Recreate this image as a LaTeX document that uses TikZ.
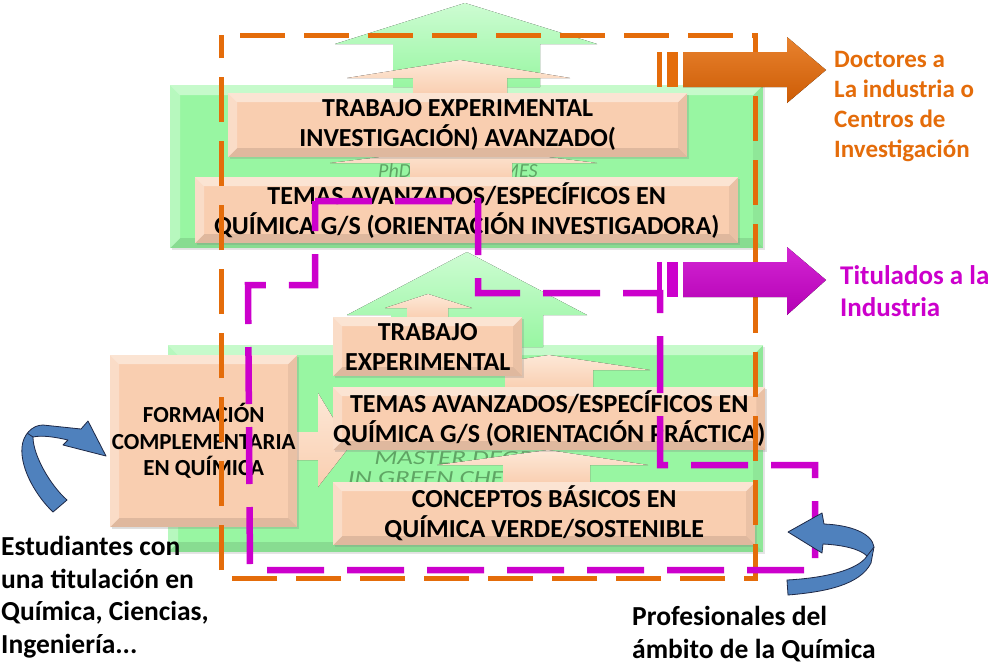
\documentclass[tikz,border=0pt]{standalone}
\usepackage{fontspec}
\setmainfont{Carlito}
\usetikzlibrary{shadows}
\definecolor{peach}{RGB}{249,206,176}
\definecolor{peachlt}{RGB}{253,232,215}
\definecolor{grn}{RGB}{152,246,162}
\definecolor{grnlt}{RGB}{205,252,210}
\definecolor{orng}{RGB}{228,108,10}
\definecolor{orngdk}{RGB}{205,92,5}
\definecolor{mgnt}{RGB}{204,0,204}
\definecolor{mgntdk}{RGB}{180,0,180}
\definecolor{blu}{RGB}{79,129,189}
\definecolor{bludark}{RGB}{30,40,70}
\definecolor{hidgrn}{RGB}{95,165,100}
\tikzset{
  bevel/.style={path picture={
    \fill[white,opacity=0.45] (path picture bounding box.north west) -- (path picture bounding box.north east) -- ([xshift=-#1,yshift=-#1]path picture bounding box.north east) -- ([xshift=#1,yshift=-#1]path picture bounding box.north west) -- cycle;
    \fill[white,opacity=0.3] (path picture bounding box.north west) -- ([xshift=#1,yshift=-#1]path picture bounding box.north west) -- ([xshift=#1,yshift=#1]path picture bounding box.south west) -- (path picture bounding box.south west) -- cycle;
    \fill[black,opacity=0.06] (path picture bounding box.north east) -- ([xshift=-#1,yshift=-#1]path picture bounding box.north east) -- ([xshift=-#1,yshift=#1]path picture bounding box.south east) -- (path picture bounding box.south east) -- cycle;
    \fill[black,opacity=0.1] (path picture bounding box.south west) -- ([xshift=#1,yshift=#1]path picture bounding box.south west) -- ([xshift=-#1,yshift=#1]path picture bounding box.south east) -- (path picture bounding box.south east) -- cycle;
  }},
  greenbox/.style={anchor=north west, fill=grn, bevel=10pt, inner sep=0pt,
    drop shadow={opacity=0.2, shadow xshift=2pt, shadow yshift=-2pt}},
  peachbox/.style={anchor=north west, fill=peach, bevel=9pt, inner sep=0pt, align=center,
    font=\bfseries\fontsize{26}{30}\selectfont,
    drop shadow={opacity=0.25, shadow xshift=2pt, shadow yshift=-2pt}},
  garrow/.style={top color=grnlt, bottom color=grn, draw=none},
  parrow/.style={top color=peachlt, bottom color=peach, draw=none},
  hidtxt/.style={inner sep=0pt, text=hidgrn, font=\itshape\fontsize{20}{20}\selectfont, align=center},
  sidetxt/.style={anchor=north west, inner sep=0pt, align=left, font=\bfseries\fontsize{27.5}{32.5}\selectfont},
  bluarrow/.style={fill=blu, draw=bludark, line width=0.8pt, line join=round},
  odash/.style={draw=orng, line width=5pt, dash pattern=on 45pt off 19pt, dash phase=45pt},
  mdash/.style={draw=mgnt, line width=6.5pt, dash pattern=on 57pt off 23pt},
}
\begin{document}
\begin{tikzpicture}[x=1pt,y=-1pt]
\useasboundingbox (0,0) rectangle (996,665);
\fill[white] (0,0) rectangle (996,665);

% green backgrounds
\node[greenbox, minimum width=593pt, minimum height=163pt] (gtop) at (170,85) {};
\node[greenbox, minimum width=595pt, minimum height=207pt] (gbot) at (168,345) {};

% green up arrows
\fill[garrow] (465,3) -- (597,44) -- (540,44) -- (540,87) -- (393,87) -- (393,44) -- (335,44) -- cycle;
\fill[garrow] (467,252) -- (587,315) -- (543,315) -- (543,347) -- (391,347) -- (391,315) -- (347,315) -- cycle;

% partly hidden texts
\node[hidtxt, anchor=base west] (hidA) at (378,177) {PhD PROGRAMMES};
\node[hidtxt, anchor=north, xscale=1.35, transform shape] (hidB) at (467,451) {MASTER DEGREE\\IN GREEN CHEMISTRY};

% peach arrows
\fill[parrow] (460,60) -- (570,78) -- (507,78) -- (507,95) -- (413,95) -- (413,78) -- (347,78) -- cycle;
\fill[parrow] (465,147) -- (597,163) -- (512,163) -- (512,179) -- (410,179) -- (410,163) -- (330,163) -- cycle;
\fill[parrow] (428,294) -- (472,308) -- (448,308) -- (448,319) -- (407,319) -- (407,308) -- (385,308) -- cycle;
\fill[parrow] (549,355) -- (650,370) -- (593,370) -- (593,389) -- (505,389) -- (505,370) -- (449,370) -- cycle;
\fill[parrow] (548,450) -- (648,465) -- (590,465) -- (590,484) -- (503,484) -- (503,465) -- (437,465) -- cycle;
\fill[parrow] (295,432) -- (318,432) -- (318,393) -- (350,446) -- (318,487) -- (318,460) -- (295,460) -- cycle;

% peach boxes
\node[peachbox, minimum width=459pt, minimum height=64pt] (trabA) at (228,93) {TRABAJO EXPERIMENTAL\\INVESTIGACIÓN) AVANZADO(};
\node[peachbox, minimum width=543pt, minimum height=66pt] (temasI) at (195,177) {TEMAS AVANZADOS/ESPECÍFICOS EN\\QUÍMICA G/S (ORIENTACIÓN INVESTIGADORA)};
\node[peachbox, minimum width=189pt, minimum height=59pt] (trabB) at (333,317) {TRABAJO\\EXPERIMENTAL};
\node[peachbox, minimum width=430pt, minimum height=63pt] (temasP) at (333,387) {TEMAS AVANZADOS/ESPECÍFICOS EN\\QUÍMICA G/S (ORIENTACIÓN PRÁCTICA)};
\node[peachbox, minimum width=422pt, minimum height=63pt] (concep) at (333,482) {CONCEPTOS BÁSICOS EN\\QUÍMICA VERDE/SOSTENIBLE};
\node[peachbox, minimum width=187pt, minimum height=172pt, font=\bfseries\fontsize{23}{26.5}\selectfont] (formac) at (110,355) {FORMACIÓN\\COMPLEMENTARIA\\EN QUÍMICA};

% dashed outlines
\draw[odash] (221,35) -- (755,35) -- (755,578) -- (221,578) -- cycle;
\draw[mdash] (315,201) -- (478,201) -- (478,293) -- (660,293) -- (660,465) -- (815,465) -- (815,570) -- (250,570) -- (248,285) -- (315,285) -- cycle;

% output arrows
\fill[orng] (657,52) rectangle (662,87);
\fill[orng] (667,52) rectangle (678,87);
\fill[top color=orng!85!white, bottom color=orngdk] (683,52) -- (787,52) -- (787,37) -- (826,70) -- (787,103) -- (787,87) -- (683,87) -- cycle;
\fill[mgnt] (657,262) rectangle (662,297);
\fill[mgnt] (667,262) rectangle (678,297);
\fill[top color=mgnt!85!white, bottom color=mgntdk] (683,262) -- (787,262) -- (787,247) -- (826,280) -- (787,315) -- (787,297) -- (683,297) -- cycle;

% blue curved arrows
\filldraw[bluarrow] (53,512) .. controls (38,498) and (20,470) .. (22,447)
  .. controls (23,435) and (32,425) .. (43,425) -- (81,429) -- (88,421) -- (106,456) -- (63,445) -- (68,440)
  .. controls (55,437) and (42,435) .. (33,437) .. controls (33,455) and (50,485) .. (67,500) -- cycle;
\draw[bludark, line width=0.8pt] (33,437) -- (27,433);
\filldraw[bluarrow] (788,532) -- (822,513) -- (824,524) .. controls (850,525) and (872,533) .. (874,547)
  -- (871,563) .. controls (860,585) and (825,592) .. (788,595) -- (787,580)
  .. controls (825,578) and (858,570) .. (867,556) .. controls (860,549) and (843,545) .. (823,544) -- (822,553) -- cycle;
\draw[bludark, line width=0.8pt] (867,556) -- (874,547);

% side texts
\node[sidetxt, text=orng, font=\bfseries\fontsize{25}{30}\selectfont] (doct) at (834,51) {Doctores a\\La industria o\\Centros de\\Investigación};
\node[sidetxt, text=mgnt, font=\bfseries\fontsize{27}{32}\selectfont] (titul) at (840,265) {Titulados a la\\Industria};
\node[sidetxt] (estud) at (1,536) {Estudiantes con\\una titulación en\\Química, Ciencias,\\Ingeniería...};
\node[sidetxt] (profe) at (632,606) {Profesionales del\\ámbito de la Química};
\end{tikzpicture}
\end{document}
